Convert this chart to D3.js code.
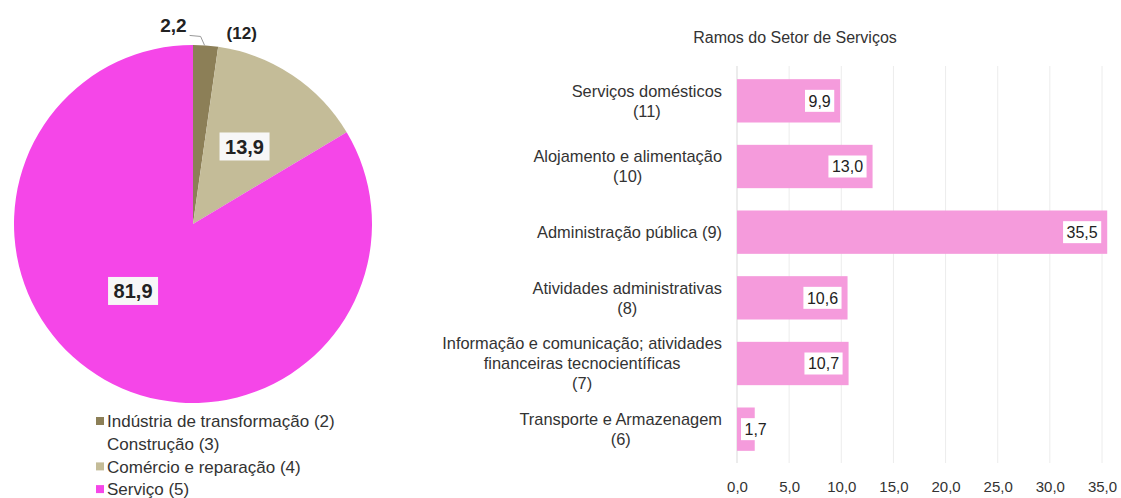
<!DOCTYPE html>
<html>
<head>
<meta charset="utf-8">
<script src="https://cdn.jsdelivr.net/npm/d3@7"></script>
<style>
  body { margin: 0; background: #fff; }
  text { font-family: "Liberation Sans", Arial, sans-serif; }
</style>
</head>
<body>
<div id="container"></div>
<script>
// pie data
const pieCats = ["Indústria de transformação (2)", "Construção (3)", "Comércio e reparação (4)", "Serviço (5)"];
const pieValues = [2.2, 0, 13.9, 81.9];
const pieColors = ["#8c7f57", "#ffffff", "#c4bc98", "#f546e8"];

// bar data (top to bottom)
const barCats = [
  ["Serviços domésticos", "(11)"],
  ["Alojamento e alimentação", "(10)"],
  ["Administração pública (9)"],
  ["Atividades administrativas", "(8)"],
  ["Informação e comunicação; atividades", "financeiras tecnocientíficas", "(7)"],
  ["Transporte e Armazenagem", "(6)"]
];
const barValues = [9.9, 13.0, 35.5, 10.6, 10.7, 1.7];
const xTicks = [0, 5, 10, 15, 20, 25, 30, 35];
const barTitle = "Ramos do Setor de Serviços";

const width = 1121, height = 498;
const fmt = v => d3.format(".1f")(v).replace(".", ",");
const textColor = "#333";

const svg = d3.select("#container").append("svg")
  .attr("width", width).attr("height", height);

// ---------- pie ----------
const cx = 193, cy = 224, R = 179;
const pie = d3.pie().sort(null).value(d => d.v);
const arcs = pie(pieCats.map((c, i) => ({ c, v: pieValues[i], col: pieColors[i] })));
const arc = d3.arc().innerRadius(0).outerRadius(R);
const gPie = svg.append("g").attr("transform", `translate(${cx},${cy})`);

gPie.selectAll("path").data(arcs.filter(d => d.data.v > 0)).enter().append("path")
  .attr("d", arc)
  .attr("fill", d => d.data.col);

// boxed labels for the two big slices
const labelArc = d3.arc().innerRadius(R * 0.52).outerRadius(R * 0.52);
const nudge = { "Comércio e reparação (4)": [0, 0], "Serviço (5)": [-14, -14] };
arcs.filter(d => d.data.v > 10).forEach(d => {
  const [lx, ly] = labelArc.centroid(d);
  const n = nudge[d.data.c] || [0, 0];
  const g = gPie.append("g").attr("transform", `translate(${lx + n[0]},${ly + n[1]})`);
  g.append("rect").attr("x", -25).attr("y", -14).attr("width", 50).attr("height", 28)
    .attr("fill", "#f7f7f7");
  g.append("text").attr("text-anchor", "middle").attr("dy", "0.36em")
    .attr("font-size", 20).attr("font-weight", "bold").attr("fill", "#222")
    .text(fmt(d.data.v));
});

// small slice label with leader line
const small = arcs[0];
const sa = (small.startAngle + small.endAngle) / 2;
const ex = Math.sin(sa) * R, ey = -Math.cos(sa) * R;
gPie.append("path")
  .attr("d", `M${ex - 1},${ey} L${ex - 5},${ey - 9} L${ex - 16},${ey - 10}`)
  .attr("fill", "none").attr("stroke", "#999").attr("stroke-width", 1);
gPie.append("text").attr("x", ex - 19).attr("y", ey - 13).attr("text-anchor", "end")
  .attr("font-size", 19).attr("font-weight", "bold").attr("fill", "#222")
  .text(fmt(small.data.v));
gPie.append("text").attr("x", ex + 21).attr("y", ey - 6)
  .attr("font-size", 17).attr("font-weight", "bold").attr("fill", "#222")
  .text("(12)");

// legend
const leg = svg.append("g").attr("transform", "translate(96,421)");
pieCats.forEach((c, i) => {
  const row = leg.append("g").attr("transform", `translate(0,${i * 22.7})`);
  row.append("rect").attr("x", 0).attr("y", -4).attr("width", 8).attr("height", 8)
    .attr("fill", pieColors[i]);
  row.append("text").attr("x", 11).attr("dy", "0.36em")
    .attr("font-size", 17).attr("fill", textColor).text(c);
});

// ---------- bars ----------
const x = d3.scaleLinear().domain([0, 35]).range([737, 1102]);
const y = d3.scaleBand().domain(d3.range(barValues.length)).range([68, 462])
  .paddingInner(0.34).paddingOuter(0.17);

svg.append("text").attr("x", 795).attr("y", 43).attr("text-anchor", "middle")
  .attr("font-size", 16).attr("fill", textColor).text(barTitle);

// gridlines
svg.append("g").selectAll("line").data(xTicks).enter().append("line")
  .attr("x1", d => x(d)).attr("x2", d => x(d))
  .attr("y1", 66).attr("y2", 463)
  .attr("stroke", d => d === 0 ? "#d9d9d9" : "#ececec").attr("stroke-width", 1);

// tick labels
const xAxis = svg.append("g").attr("transform", "translate(0,463)")
  .call(d3.axisBottom(x).tickValues(xTicks).tickFormat(fmt).tickSize(0).tickPadding(18));
xAxis.select(".domain").remove();
xAxis.selectAll("text").attr("font-size", 15).attr("fill", textColor)
  .attr("font-family", "Liberation Sans, Arial, sans-serif");

// bars
svg.append("g").selectAll("rect").data(barValues).enter().append("rect")
  .attr("x", x(0)).attr("y", (d, i) => y(i))
  .attr("width", d => x(d) - x(0)).attr("height", y.bandwidth())
  .attr("fill", "#f59bdc");

// value labels
barValues.forEach((v, i) => {
  const t = fmt(v);
  const yc = y(i) + y.bandwidth() / 2;
  const rect = svg.append("rect").attr("fill", "#fff");
  const txt = svg.append("text").attr("y", yc).attr("dy", "0.36em")
    .attr("text-anchor", "middle").attr("font-size", 16).attr("fill", "#222").text(t);
  const w = txt.node().getComputedTextLength() + 7;
  const bx = Math.max(x(v) - 6 - w, x(0) + 4);
  rect.attr("x", bx).attr("y", yc - 11).attr("width", w).attr("height", 22);
  txt.attr("x", bx + w / 2);
});

// category labels (multi-line, lines centred within block, block right-aligned)
barCats.forEach((lines, i) => {
  const yc = y(i) + y.bandwidth() / 2;
  const g = svg.append("g");
  const texts = lines.map((l, j) => g.append("text")
    .attr("y", yc + (j - (lines.length - 1) / 2) * 20).attr("dy", "0.36em")
    .attr("text-anchor", "middle").attr("font-size", 16.4).attr("fill", textColor).text(l));
  const maxW = d3.max(texts, t => t.node().getComputedTextLength());
  texts.forEach(t => t.attr("x", 722 - maxW / 2));
});
</script>
</body>
</html>
